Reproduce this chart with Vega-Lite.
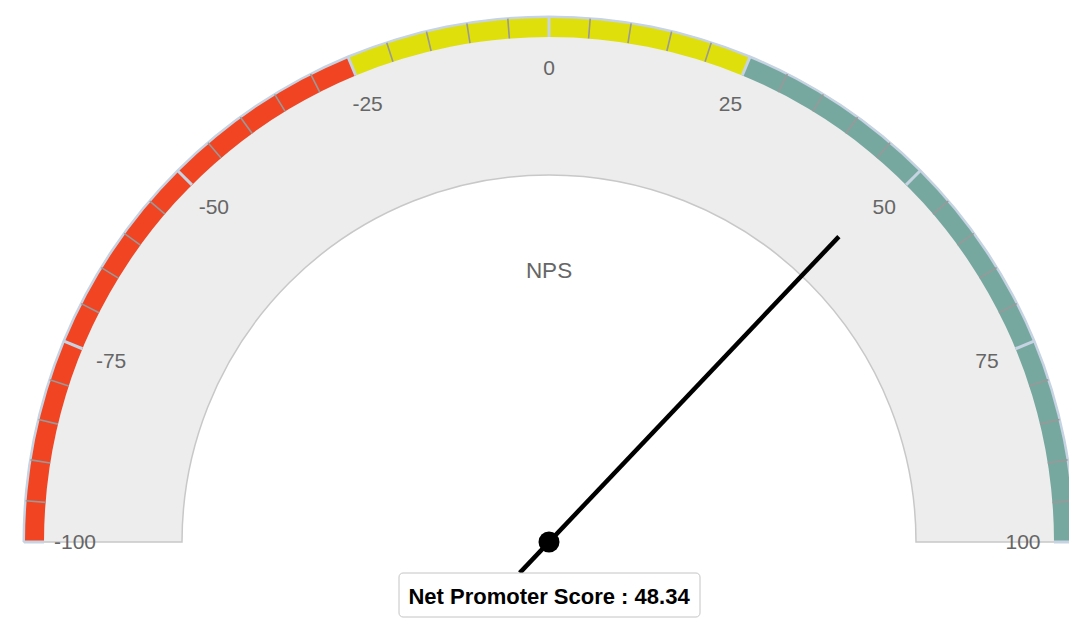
{
  "$schema": "https://vega.github.io/schema/vega-lite/v6.json",
  "width": 1069,
  "height": 624,
  "padding": 0,
  "autosize": {"type": "none"},
  "background": "white",
  "config": {"view": {"stroke": null}},
  "datasets": {
    "bands": [
      {"from": -100, "to": -25, "zone": "Detractors"},
      {"from": -25, "to": 25, "zone": "Passives"},
      {"from": 25, "to": 100, "zone": "Promoters"}
    ],
    "labels": [
      {"v": -100, "label": "-100"}, {"v": -75, "label": "-75"}, {"v": -50, "label": "-50"},
      {"v": -25, "label": "-25"}, {"v": 0, "label": "0"}, {"v": 25, "label": "25"},
      {"v": 50, "label": "50"}, {"v": 75, "label": "75"}, {"v": 100, "label": "100"}
    ],
    "minor": [
      {"v": -95}, {"v": -90}, {"v": -85}, {"v": -80}, {"v": -70}, {"v": -65}, {"v": -60}, {"v": -55},
      {"v": -45}, {"v": -40}, {"v": -35}, {"v": -30}, {"v": -20}, {"v": -15}, {"v": -10}, {"v": -5},
      {"v": 5}, {"v": 10}, {"v": 15}, {"v": 20}, {"v": 30}, {"v": 35}, {"v": 40}, {"v": 45},
      {"v": 55}, {"v": 60}, {"v": 65}, {"v": 70}, {"v": 80}, {"v": 85}, {"v": 90}, {"v": 95}
    ],
    "score": [
      {"metric": "NPS", "nps": 48.34, "caption": "Net Promoter Score : 48.34"}
    ]
  },
  "encoding": {
    "x": {"datum": 0, "type": "quantitative", "scale": {"domain": [-549, 520], "nice": false, "zero": false}, "axis": null},
    "y": {"datum": 0, "type": "quantitative", "scale": {"domain": [-82, 542], "nice": false, "zero": false}, "axis": null}
  },
  "layer": [
    {
      "data": {"name": "score"},
      "mark": {"type": "arc", "radius": 525, "radius2": 367, "fill": "#ededed", "stroke": "#c8c8c8", "strokeWidth": 1.5},
      "encoding": {
        "theta": {"datum": -100, "type": "quantitative", "stack": null, "scale": {"domain": [-100, 100], "range": [-1.5707963, 1.5707963]}},
        "theta2": {"datum": 100}
      }
    },
    {
      "data": {"name": "bands"},
      "mark": {"type": "arc", "radius": 525, "radius2": 505},
      "encoding": {
        "theta": {"field": "from", "type": "quantitative", "stack": null},
        "theta2": {"field": "to"},
        "fill": {"field": "zone", "type": "nominal", "scale": {"domain": ["Detractors", "Passives", "Promoters"], "range": ["#f04423", "#dfdf0b", "#77a8a0"]}, "legend": null}
      }
    },
    {
      "data": {"name": "score"},
      "mark": {"type": "arc", "radius": 526.5, "radius2": 524, "fill": "#c6d3e2"},
      "encoding": {
        "theta": {"datum": -100, "type": "quantitative", "stack": null},
        "theta2": {"datum": 100}
      }
    },
    {
      "data": {"name": "minor"},
      "mark": {"type": "point", "shape": "M0,-0.9619L0,-1", "size": 1102500, "filled": false, "stroke": "#999999", "strokeWidth": 1.6, "opacity": 1},
      "encoding": {
        "angle": {"field": "v", "type": "quantitative", "scale": {"domain": [-100, 100], "range": [-90, 90]}}
      }
    },
    {
      "data": {"name": "labels"},
      "mark": {"type": "point", "shape": "M0,-0.9619L0,-1", "size": 1102500, "filled": false, "stroke": "#c6d3e2", "strokeWidth": 3, "opacity": 1},
      "encoding": {
        "angle": {"field": "v", "type": "quantitative"}
      }
    },
    {
      "data": {"name": "labels"},
      "mark": {"type": "text", "radius": 474, "fontSize": 21, "font": "Liberation Sans", "fill": "#666666", "align": "center", "baseline": "middle", "dy": 1},
      "encoding": {
        "theta": {"field": "v", "type": "quantitative", "stack": null},
        "text": {"field": "label", "type": "nominal"}
      }
    },
    {
      "data": {"name": "score"},
      "mark": {"type": "text", "fontSize": 22.5, "font": "Liberation Sans", "fill": "#666666", "align": "center", "baseline": "middle"},
      "encoding": {
        "y": {"datum": 271, "type": "quantitative"},
        "text": {"field": "metric"}
      }
    },
    {
      "data": {"name": "score"},
      "mark": {"type": "point", "shape": "M0,0.081L0,-0.802", "size": 1102500, "filled": false, "stroke": "#000000", "strokeWidth": 4.5, "opacity": 1},
      "encoding": {
        "angle": {"field": "nps", "type": "quantitative"}
      }
    },
    {
      "data": {"name": "score"},
      "mark": {"type": "point", "shape": "circle", "size": 441, "filled": true, "fill": "#000000", "opacity": 1}
    },
    {
      "data": {"name": "score"},
      "mark": {"type": "rect", "fill": "#ffffff", "stroke": "#c4c4c4", "strokeWidth": 1, "cornerRadius": 4},
      "encoding": {
        "x": {"datum": -150, "type": "quantitative"},
        "x2": {"datum": 151},
        "y": {"datum": -31, "type": "quantitative"},
        "y2": {"datum": -75}
      }
    },
    {
      "data": {"name": "score"},
      "mark": {"type": "text", "fontSize": 22, "fontWeight": "bold", "font": "Liberation Sans", "fill": "#000000", "align": "center", "baseline": "middle", "dy": 1},
      "encoding": {
        "y": {"datum": -54, "type": "quantitative"},
        "text": {"field": "caption"}
      }
    }
  ]
}
